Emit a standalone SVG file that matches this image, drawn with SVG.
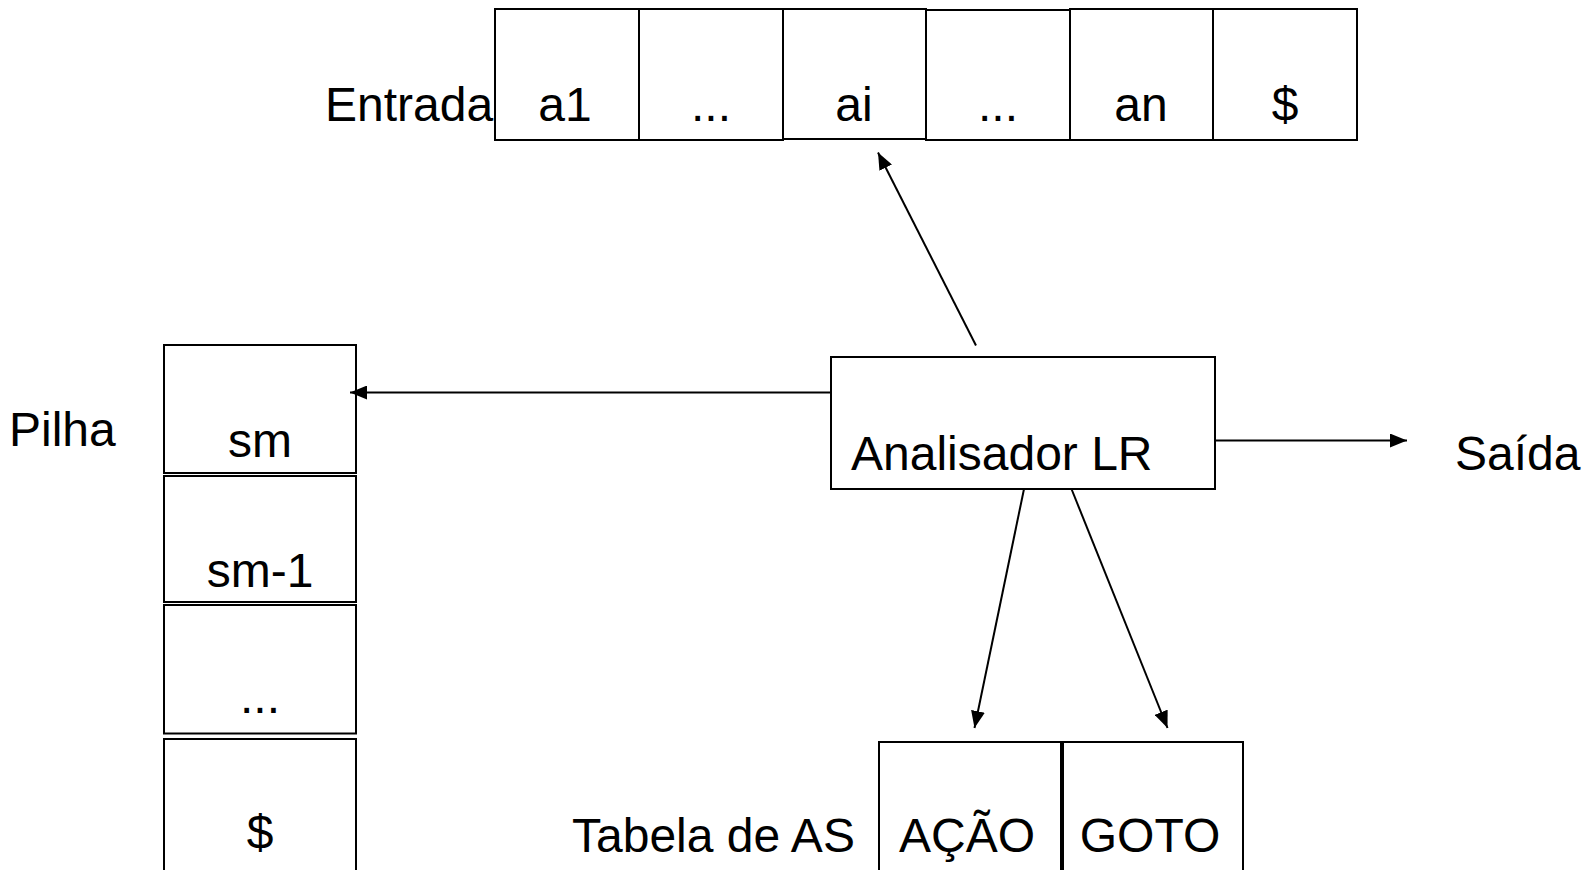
<svg xmlns="http://www.w3.org/2000/svg" width="1585" height="870" viewBox="0 0 1585 870">
  <style>
    .box { fill: #ffffff; stroke: #000000; stroke-width: 2; }
    .lbl { font-family: "Liberation Sans", Arial, Helvetica, sans-serif; font-size: 48px; fill: #000000; }
    .mid { text-anchor: middle; }
    .wire { stroke: #000000; stroke-width: 2; fill: none; marker-end: url(#head); }
  </style>
  <defs>
    <marker id="head" viewBox="0 0 17 14" refX="17" refY="7" markerWidth="17" markerHeight="14" markerUnits="userSpaceOnUse" orient="auto">
      <path d="M0,0 L17,7 L0,14 Z" fill="#000000"/>
    </marker>
  </defs>
  <rect x="0" y="0" width="1585" height="870" fill="#ffffff"/>

  <!-- input tape -->
  <g id="entrada">
    <text class="lbl" x="325" y="121">Entrada</text>
    <rect class="box" x="495" y="9" width="144" height="131"/>
    <rect class="box" x="639" y="9" width="144" height="131"/>
    <rect class="box" x="783" y="9" width="143" height="130"/>
    <rect class="box" x="926" y="10" width="144" height="130"/>
    <rect class="box" x="1070" y="9" width="143" height="131"/>
    <rect class="box" x="1213" y="9" width="144" height="131"/>
    <text class="lbl mid" x="565" y="121">a1</text>
    <text class="lbl mid" x="711" y="121">...</text>
    <text class="lbl mid" x="854" y="121">ai</text>
    <text class="lbl mid" x="998" y="121">...</text>
    <text class="lbl mid" x="1141" y="121">an</text>
    <text class="lbl mid" x="1285" y="121">$</text>
  </g>

  <!-- stack -->
  <g id="pilha">
    <text class="lbl" x="9" y="446">Pilha</text>
    <rect class="box" x="164" y="345" width="192" height="128"/>
    <rect class="box" x="164" y="476" width="192" height="126"/>
    <rect class="box" x="164" y="605" width="192" height="128.5"/>
    <rect class="box" x="164" y="739" width="192" height="140"/>
    <text class="lbl mid" x="260" y="457">sm</text>
    <text class="lbl mid" x="260" y="587">sm-1</text>
    <text class="lbl mid" x="260" y="713">...</text>
    <text class="lbl mid" x="260" y="849">$</text>
  </g>

  <!-- LR parser -->
  <g id="analisador">
    <rect class="box" x="831" y="357" width="384" height="132"/>
    <text class="lbl" x="851" y="470">Analisador LR</text>
  </g>

  <!-- output -->
  <g id="saida">
    <text class="lbl" x="1455" y="470">Saída</text>
  </g>

  <!-- parsing table -->
  <g id="tabela">
    <text class="lbl" x="572" y="852">Tabela de AS</text>
    <rect class="box" x="879" y="742" width="182" height="140"/>
    <rect class="box" x="1063" y="742" width="180" height="140"/>
    <text class="lbl mid" x="967" y="852">AÇÃO</text>
    <text class="lbl mid" x="1150" y="852">GOTO</text>
  </g>

  <!-- connectors -->
  <g id="connectors">
    <line class="wire" x1="976" y1="345.5" x2="878" y2="152.5"/>
    <line class="wire" x1="831" y1="392.5" x2="350" y2="392.5"/>
    <line class="wire" x1="1215" y1="440.5" x2="1407" y2="440.5"/>
    <line class="wire" x1="1024" y1="489" x2="974.5" y2="728"/>
    <line class="wire" x1="1071.5" y1="489" x2="1167.5" y2="728"/>
  </g>
</svg>
